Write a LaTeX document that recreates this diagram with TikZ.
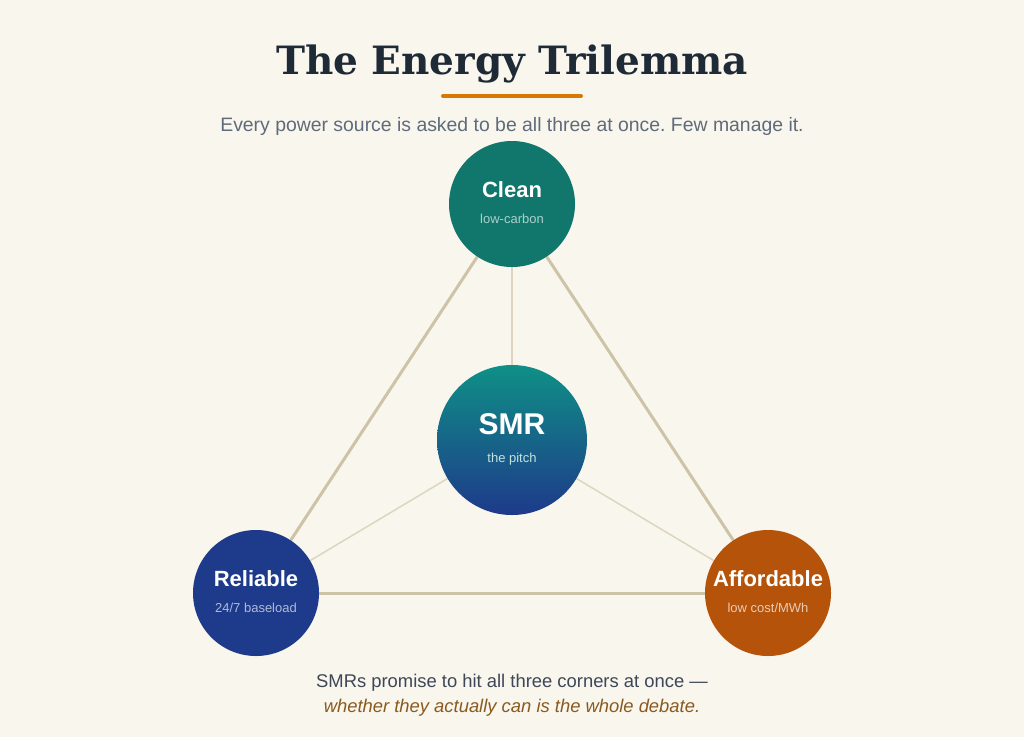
\documentclass[tikz,border=0pt]{standalone}
\usepackage{fontspec}
\setmainfont{Liberation Sans}
\newfontfamily\titlefont{DejaVu Serif}
\usetikzlibrary{calc}
\pgfdeclarelayer{bg}
\pgfsetlayers{bg,main}
\frenchspacing
\definecolor{paper}{HTML}{F9F6EE}
\definecolor{ink}{HTML}{1F2A37}
\definecolor{subgray}{HTML}{5F6B7A}
\definecolor{bodygray}{HTML}{3D4756}
\definecolor{rust}{HTML}{D97706}
\definecolor{cleanc}{HTML}{11776C}
\definecolor{reliablec}{HTML}{1E3A8A}
\definecolor{affordc}{HTML}{B45309}
\definecolor{smrtop}{HTML}{0F9086}
\definecolor{edgec}{HTML}{CDC3A6}
\definecolor{spokec}{HTML}{DDD5BF}
\definecolor{notec}{HTML}{8A5A1E}

\begin{document}
\begin{tikzpicture}[x=1pt,y=-1pt,
    corner/.style={circle,minimum size=126pt,inner sep=0pt},
    head/.style={text=white,font=\fontsize{22}{22}\selectfont\bfseries},
    sub/.style={font=\fontsize{13}{13}\selectfont},
    edge/.style={edgec,line width=3pt},
    spoke/.style={spokec,line width=1.5pt}]
    \useasboundingbox (0,0) rectangle (1024,737);
    \begin{pgfonlayer}{bg}
        \fill[paper] (0,0) rectangle (1024,737);
    \end{pgfonlayer}
    % heading
    \node[text=ink,font=\titlefont\fontsize{39}{39}\selectfont\bfseries] (title) at (512,64) {The Energy Trilemma};
    \coordinate (barl) at (443,96);
    \coordinate (barr) at (581,96);
    \draw[rust,line width=4pt,line cap=round] (barl)--(barr);
    \node[text=subgray,font=\fontsize{19.4}{19.4}\selectfont] (subtitle) at (512,126) {Every power source is asked to be all three at once. Few manage it.};
    % the three corners and the middle
    \node[corner,fill=cleanc] (clean) at (512,204) {};
    \node[corner,fill=reliablec] (reliable) at (256,593) {};
    \node[corner,fill=affordc] (afford) at (768,593) {};
    \node[corner,minimum size=150pt,top color=smrtop,bottom color=reliablec] (smr) at (512,440) {};
    \node[head] (cleanh) at ([yshift=14pt]clean.center) {Clean};
    \node[sub,text=cleanc!35!white] (cleans) at ([yshift=-15pt]clean.center) {low-carbon};
    \node[head] (relh) at ([yshift=14pt]reliable.center) {Reliable};
    \node[sub,text=reliablec!35!white] (rels) at ([yshift=-15pt]reliable.center) {24/7 baseload};
    \node[head] (affh) at ([yshift=14pt]afford.center) {Affordable};
    \node[sub,text=affordc!30!white] (affs) at ([yshift=-15pt]afford.center) {low cost/MWh};
    \node[head,font=\fontsize{30}{30}\selectfont\bfseries] (smrh) at ([yshift=16pt]smr.center) {SMR};
    \node[sub,text=smrtop!25!white] (smrs) at ([yshift=-19pt]smr.center) {the pitch};
    % lines behind the circles
    \begin{pgfonlayer}{bg}
        \draw[edge] (clean)--(reliable);
        \draw[edge] (clean)--(afford);
        \draw[edge] (reliable)--(afford);
        \draw[spoke,line width=2pt] (smr)--(clean);
        \draw[spoke] (smr)--(reliable);
        \draw[spoke] (smr)--(afford);
    \end{pgfonlayer}
    % closing note
    \node[text=bodygray,font=\fontsize{18.4}{18.4}\selectfont] (note1) at (512,683) {SMRs promise to hit all three corners at once ---};
    \node[text=notec,font=\fontsize{18.4}{18.4}\selectfont\itshape] (note2) at (512,708) {whether they actually can is the whole debate.};
\end{tikzpicture}
\end{document}
